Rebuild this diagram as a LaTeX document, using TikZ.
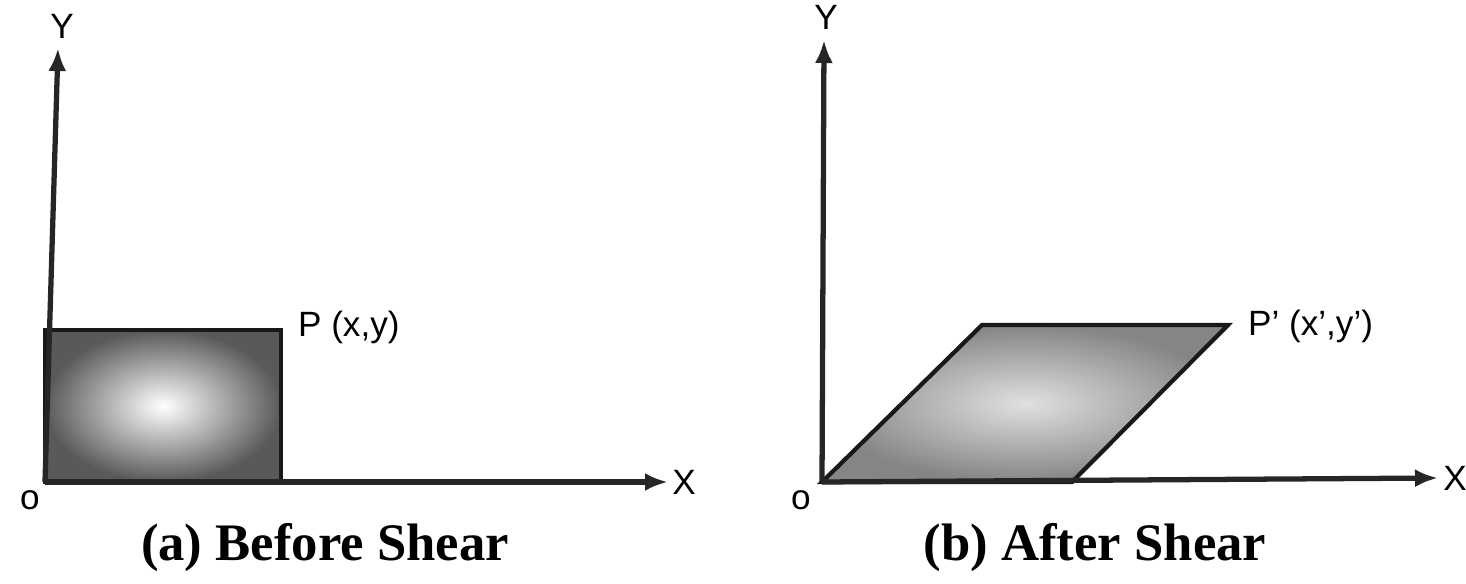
\documentclass[tikz,border=0pt]{standalone}
\usepackage{fontspec}
\setmainfont{Liberation Serif}
\setsansfont{Liberation Sans}
\usetikzlibrary{arrows.meta, positioning}

\begin{document}
\begin{tikzpicture}[
    x=0.02cm, y=-0.02cm,
    >={Latex[length=4.6mm, width=3.6mm]},
    axis/.style={->, line width=3pt, black!85},
    region/.style={draw=black!90, line width=2.4pt},
    lbl/.style={font=\sffamily\fontsize{20}{24}\selectfont, inner sep=1pt},
    caption/.style={font=\bfseries\fontsize{30}{36}\selectfont},
]
    \useasboundingbox (0,0) rectangle (1466,584);

    % Before shear
    \coordinate (o1) at (45,482);
    \coordinate (y1) at (58,48);
    \coordinate (x1) at (668,482);
    \filldraw[region, inner color=white, outer color=black!65]
        (o1) rectangle (281,330);
    \draw[axis] (o1) -- (y1);
    \draw[axis] (o1) -- (x1);
    \node[lbl] (ylab1) at (62,26) {Y};
    \node[lbl] (xlab1) at (684,482) {X};
    \node[lbl] (olab1) at (30,500) {o};
    \node[lbl, anchor=west] (p) at (296,327) {P (x,y)};
    \node[caption] (cap1) at (325,548) {(a) Before Shear};

    % After shear
    \coordinate (o2) at (822,482);
    \coordinate (y2) at (824,40);
    \coordinate (x2) at (1438,478);
    \filldraw[region, inner color=black!12, outer color=black!48]
        (o2) -- (1072,482) -- (1228,325) -- (982,325) -- cycle;
    \draw[axis] (o2) -- (y2);
    \draw[axis] (o2) -- (x2);
    \node[lbl] (ylab2) at (826,17) {Y};
    \node[lbl] (xlab2) at (1455,478) {X};
    \node[lbl] (olab2) at (801,500) {o};
    \node[lbl, anchor=west] (pp) at (1246,326) {P' (x',y')};
    \node[caption] (cap2) at (1095,548) {(b) After Shear};
\end{tikzpicture}
\end{document}
